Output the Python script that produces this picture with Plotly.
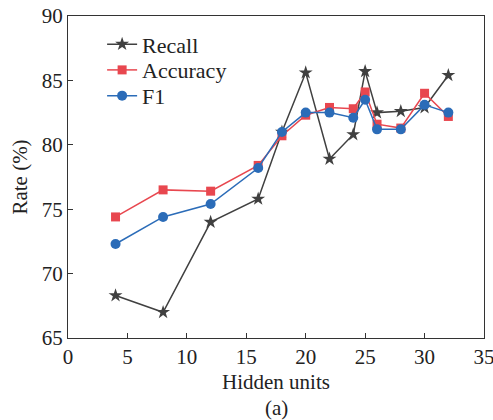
import plotly.graph_objects as go

hidden_units = [4, 8, 12, 16, 18, 20, 22, 24, 25, 26, 28, 30, 32]
recall = [68.3, 67.0, 74.0, 75.8, 81.0, 85.6, 78.9, 80.8, 85.7, 82.5, 82.6, 82.9, 85.4]
accuracy = [74.4, 76.5, 76.4, 78.4, 80.7, 82.3, 82.9, 82.8, 84.1, 81.6, 81.3, 84.0, 82.2]
f1 = [72.3, 74.4, 75.4, 78.2, 81.0, 82.5, 82.5, 82.1, 83.5, 81.2, 81.2, 83.1, 82.5]

FONT = "Liberation Serif"
FS = 21
LFS = 22

fig = go.Figure()
fig.add_trace(go.Scatter(x=hidden_units, y=recall, name="Recall", mode="lines+markers",
                         line=dict(color="#404040", width=1.5),
                         marker=dict(symbol="star", size=10.5, color="#404040"),
                         legend="legend"))
fig.add_trace(go.Scatter(x=hidden_units, y=accuracy, name="Accuracy", mode="lines+markers",
                         line=dict(color="#e8474f", width=1.5),
                         marker=dict(symbol="square", size=9, color="#e8474f"),
                         legend="legend2"))
fig.add_trace(go.Scatter(x=hidden_units, y=f1, name="F1", mode="lines+markers",
                         line=dict(color="#2b6cb8", width=1.5),
                         marker=dict(symbol="circle", size=10, color="#2b6cb8"),
                         legend="legend3"))

def leg(y):
    return dict(x=0.082, y=y, xanchor="left", yanchor="middle",
                bgcolor="rgba(0,0,0,0)", font=dict(family=FONT, size=LFS, color="#222222"),
                itemwidth=30)

fig.update_layout(
    width=503, height=420,
    margin=dict(l=68, r=19, t=16, b=82),
    paper_bgcolor="white", plot_bgcolor="white",
    font=dict(family=FONT, size=FS, color="#222222"),
    showlegend=True,
    legend=leg(0.912), legend2=leg(0.832), legend3=leg(0.752),
    xaxis=dict(range=[0, 35], tickvals=[0, 5, 10, 15, 20, 25, 30, 35],
               ticks="inside", ticklen=5, tickwidth=1, tickcolor="#333333",
               showline=True, linecolor="#333333", linewidth=1.2, mirror=True,
               showgrid=False, zeroline=False, automargin=False,
               title=dict(text="Hidden units", font=dict(family=FONT, size=FS), standoff=6)),
    yaxis=dict(range=[65, 90], tickvals=[65, 70, 75, 80, 85, 90],
               ticks="inside", ticklen=5, tickwidth=1, tickcolor="#333333",
               showline=True, linecolor="#333333", linewidth=1.2, mirror=True,
               showgrid=False, zeroline=False, automargin=False,
               title=dict(text="Rate (%)", font=dict(family=FONT, size=FS), standoff=8)),
    annotations=[dict(text="(a)", x=0.5, y=-0.217, xref="paper", yref="paper",
                      xanchor="center", yanchor="middle", showarrow=False,
                      font=dict(family=FONT, size=FS))],
)

fig.write_html("out.html", config={"displayModeBar": False},
               post_script="document.body.style.margin='0';document.body.style.overflow='hidden';")
